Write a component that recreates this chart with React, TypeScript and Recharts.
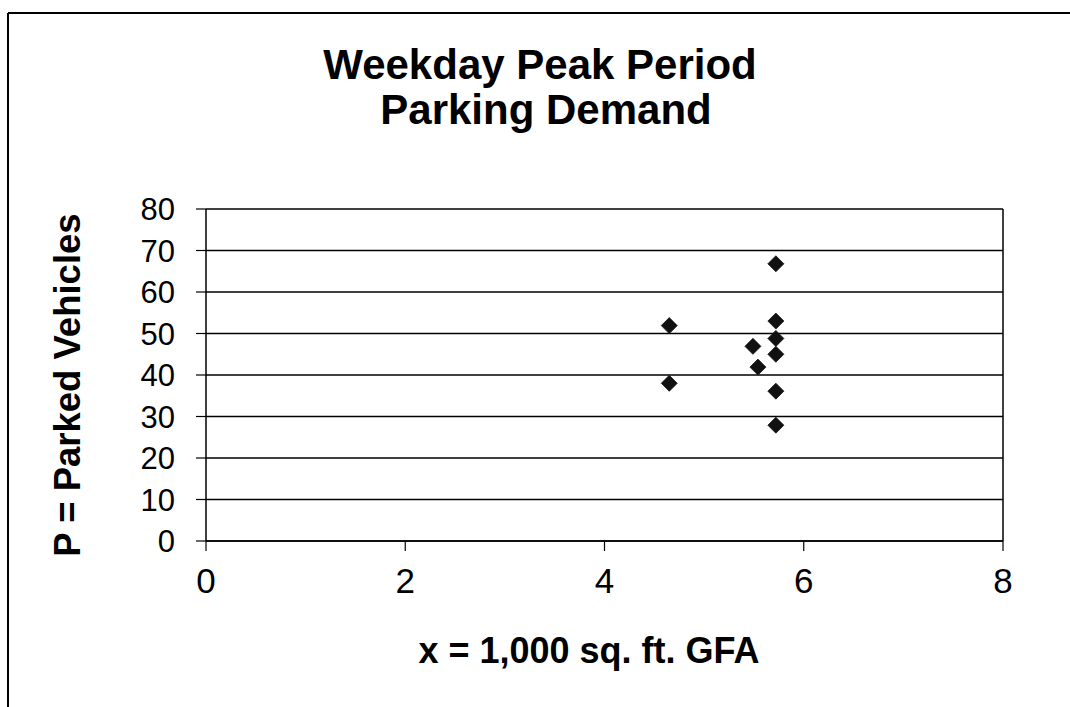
import React from 'react';
import { ScatterChart, Scatter, XAxis, YAxis, CartesianGrid, ReferenceLine } from 'recharts';

const gfaValues = [5.72, 4.65, 5.72, 5.72, 5.49, 5.72, 5.54, 4.65, 5.72, 5.72];
const parkedValues = [66.8, 51.9, 53.0, 48.8, 46.9, 45.0, 41.9, 38.0, 36.1, 27.9];
const xTicks = [0, 2, 4, 6, 8];
const yTicks = [0, 10, 20, 30, 40, 50, 60, 70, 80];
const titleLines = ['Weekday Peak Period', 'Parking Demand'];
const xTitle = 'x = 1,000 sq. ft. GFA';
const yTitle = 'P = Parked Vehicles';

const data = gfaValues.map((x, i) => ({ x, y: parkedValues[i] }));

const FONT = '"Liberation Sans", Arial, Helvetica, sans-serif';

const Diamond = (props: any) => {
  const { cx, cy } = props;
  if (cx == null || cy == null) return null;
  const r = 8;
  return (
    <path
      d={`M${cx},${cy - r} L${cx + r},${cy} L${cx},${cy + r} L${cx - r},${cy} Z`}
      fill="#111"
      stroke="#111"
      strokeWidth={0.8}
    />
  );
};

export default function App() {
  return (
    <div style={{ position: 'absolute', left: 0, top: 0, width: 1070, height: 707, background: '#fff' }}>
      <ScatterChart width={1070} height={707} margin={{ top: 209, right: 67, bottom: 0, left: 0 }}>
        <CartesianGrid vertical={false} stroke="#000" strokeWidth={1.5} />
        <XAxis
          type="number"
          dataKey="x"
          domain={[0, 8]}
          ticks={xTicks}
          interval={0}
          height={166}
          tickSize={10}
          tickMargin={17}
          axisLine={{ stroke: '#000', strokeWidth: 1.5 }}
          tickLine={{ stroke: '#000', strokeWidth: 1.2 }}
          tick={{ fill: '#000', fontSize: 35, fontFamily: FONT }}
          label={{
            content: () => (
              <text x={589} y={663} textAnchor="middle" fontFamily={FONT} fontWeight="bold" fontSize={36} fill="#000">
                {xTitle}
              </text>
            ),
          }}
        />
        <YAxis
          type="number"
          dataKey="y"
          domain={[0, 80]}
          ticks={yTicks}
          interval={0}
          width={206}
          tickSize={10}
          tickMargin={21}
          axisLine={{ stroke: '#000', strokeWidth: 1.5 }}
          tickLine={{ stroke: '#000', strokeWidth: 1.2 }}
          tick={{ fill: '#000', fontSize: 31, fontFamily: FONT }}
          label={{
            content: () => (
              <text
                x={80}
                y={385}
                transform="rotate(-90 80 385)"
                textAnchor="middle"
                fontFamily={FONT}
                fontWeight="bold"
                fontSize={36.5}
                fill="#000"
              >
                {yTitle}
              </text>
            ),
          }}
        />
        <ReferenceLine x={8} stroke="#000" strokeWidth={1.5} />
        <Scatter data={data} shape={Diamond} fill="#111" isAnimationActive={false} />
      </ScatterChart>
      <svg
        width={1070}
        height={707}
        style={{ position: 'absolute', left: 0, top: 0, pointerEvents: 'none' }}
      >
        <line x1={8} y1={13} x2={1070} y2={13} stroke="#000" strokeWidth={2} />
        <line x1={8} y1={13} x2={8} y2={707} stroke="#000" strokeWidth={2} />
        <text x={540} y={79} textAnchor="middle" fontFamily={FONT} fontWeight="bold" fontSize={42} fill="#000">
          {titleLines[0]}
        </text>
        <text x={546} y={124} textAnchor="middle" fontFamily={FONT} fontWeight="bold" fontSize={42} fill="#000">
          {titleLines[1]}
        </text>
      </svg>
    </div>
  );
}
